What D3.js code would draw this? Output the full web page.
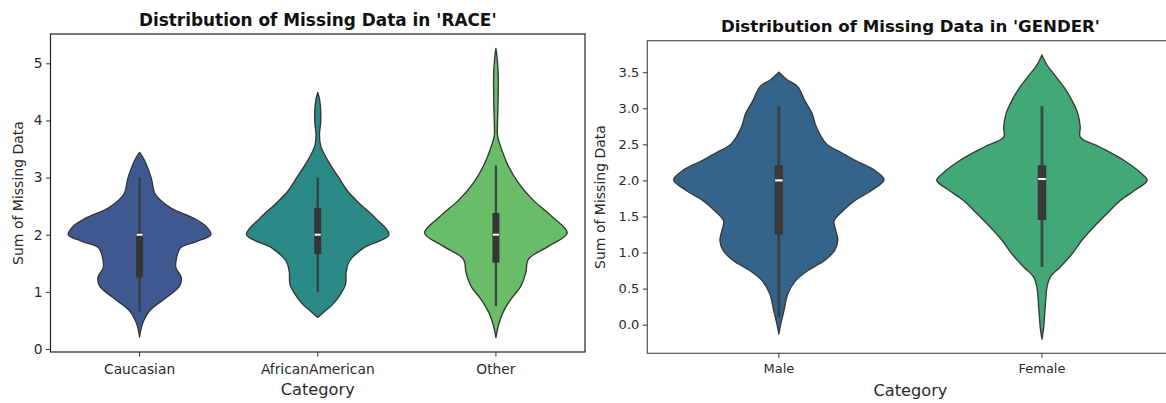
<!DOCTYPE html>
<html>
<head>
<meta charset="utf-8">
<script src="https://cdn.jsdelivr.net/npm/d3@7"></script>
<style>
  body { margin: 0; background: #ffffff; }
  svg { display: block; font-family: "DejaVu Sans", sans-serif; }
</style>
</head>
<body>
<svg id="chart" width="1166" height="403"></svg>
<script>
// ---- RACE panel data ----
const raceCategories = ["Caucasian", "AfricanAmerican", "Other"];
// density profiles: [value, relative density (1 = widest point)]
const raceDensityCaucasian = [
  [3.44, 0], [3.30, 0.07], [2.99, 0.164], [2.70, 0.224], [2.47, 0.435], [2.29, 0.757],
  [2.15, 0.93], [2.00, 1.0], [1.88, 0.80], [1.77, 0.575], [1.57, 0.515], [1.42, 0.51],
  [1.25, 0.585], [1.10, 0.56], [0.90, 0.375], [0.67, 0.14], [0.49, 0.056], [0.35, 0.02], [0.21, 0]
];
const raceDensityAfricanAmerican = [
  [4.49, 0], [4.35, 0.028], [4.15, 0.042], [3.95, 0.04], [3.75, 0.024], [3.55, 0.042],
  [3.28, 0.15], [2.99, 0.30], [2.76, 0.42], [2.53, 0.60], [2.29, 0.81], [2.00, 1.0],
  [1.77, 0.645], [1.54, 0.445], [1.36, 0.40], [1.13, 0.39], [0.96, 0.32], [0.78, 0.21],
  [0.64, 0.08], [0.55, 0]
];
const raceDensityOther = [
  [5.26, 0], [5.05, 0.02], [4.80, 0.032], [4.50, 0.032], [4.20, 0.028], [3.90, 0.021],
  [3.72, 0.024], [3.48, 0.084], [3.19, 0.18], [2.90, 0.32], [2.61, 0.52], [2.32, 0.785],
  [2.03, 1.0], [1.80, 0.74], [1.57, 0.455], [1.34, 0.42], [1.10, 0.35], [0.87, 0.21],
  [0.64, 0.10], [0.41, 0.035], [0.20, 0]
];
const raceQ1 = [1.25, 1.66, 1.51];
const raceMedian = [2.0, 2.0, 2.0];
const raceQ3 = [2.03, 2.47, 2.38];
const raceWhiskerLow = [0.65, 0.99, 0.75];
const raceWhiskerHigh = [3.0, 3.0, 3.21];
const raceTicks = [0, 1, 2, 3, 4, 5];
const raceColors = ["#3f5990", "#2b8a85", "#6abd68"];

// ---- GENDER panel data ----
const genderCategories = ["Male", "Female"];
const genderDensityMale = [
  [3.50, 0], [3.40, 0.076], [3.30, 0.18], [3.11, 0.245], [2.93, 0.315], [2.74, 0.356],
  [2.51, 0.45], [2.38, 0.60], [2.28, 0.72], [2.15, 0.90], [2.01, 1.0], [1.86, 0.88],
  [1.72, 0.72], [1.58, 0.61], [1.44, 0.525], [1.31, 0.54], [1.17, 0.56], [1.03, 0.53],
  [0.89, 0.435], [0.75, 0.276], [0.61, 0.16], [0.43, 0.086], [0.19, 0.048], [0.02, 0.02], [-0.13, 0]
];
const genderDensityFemale = [
  [3.74, 0], [3.60, 0.048], [3.48, 0.11], [3.30, 0.206], [3.11, 0.285], [2.93, 0.34],
  [2.74, 0.364], [2.60, 0.364], [2.46, 0.554], [2.28, 0.777], [2.09, 0.95], [2.00, 1.0],
  [1.86, 0.88], [1.72, 0.745], [1.54, 0.618], [1.35, 0.49], [1.17, 0.38], [0.98, 0.285],
  [0.80, 0.174], [0.66, 0.079], [0.52, 0.048], [0.24, 0.031], [-0.04, 0.016], [-0.20, 0]
];
const genderQ1 = [1.25, 1.45];
const genderMedian = [2.0, 2.02];
const genderQ3 = [2.21, 2.21];
const genderWhiskerLow = [0.1, 0.8];
const genderWhiskerHigh = [3.03, 3.03];
const genderTicks = [0, 0.5, 1, 1.5, 2, 2.5, 3, 3.5];
const genderColors = ["#346489", "#42a877"];

const svg = d3.select("#chart");

function drawPanel(cfg) {
  const g = svg.append("g");
  const profiles = cfg.density;

  // y domain: full extent of the violins plus a 5% margin on each side
  const allVals = profiles.flat().map(d => d[0]);
  const lo = d3.min(allVals), hi = d3.max(allVals);
  const pad = (hi - lo) * 0.05;
  const y = d3.scaleLinear().domain([lo - pad, hi + pad]).range([cfg.bottom, cfg.top]);
  const x = d3.scaleBand().domain(cfg.categories).range([cfg.left, cfg.right]).padding(0);
  const half = d3.scaleLinear().domain([0, 1]).range([0, x.bandwidth() * 0.4]);

  // violins
  cfg.categories.forEach((c, i) => {
    const cx = x(c) + x.bandwidth() / 2;
    const area = d3.area()
      .curve(d3.curveCatmullRom.alpha(0.5))
      .y(d => y(d[0]))
      .x0(d => cx - half(d[1]))
      .x1(d => cx + half(d[1]));
    g.append("path")
      .datum(profiles[i])
      .attr("d", area)
      .attr("fill", cfg.colors[i])
      .attr("stroke", cfg.lineColor)
      .attr("stroke-width", 1.35)
      .attr("stroke-linejoin", "round");

    // whisker
    g.append("line")
      .attr("x1", cx).attr("x2", cx)
      .attr("y1", y(cfg.whiskerHigh[i])).attr("y2", y(cfg.whiskerLow[i]))
      .attr("stroke", cfg.lineColor)
      .attr("stroke-opacity", 0.85)
      .attr("stroke-width", cfg.whiskerWidth);
    // box
    g.append("rect")
      .attr("x", cx - cfg.boxWidth / 2)
      .attr("width", cfg.boxWidth)
      .attr("y", y(cfg.q3[i]))
      .attr("height", y(cfg.q1[i]) - y(cfg.q3[i]))
      .attr("fill", cfg.lineColor);
    // median
    g.append("rect")
      .attr("x", cx - cfg.boxWidth / 2 + 0.5)
      .attr("width", cfg.boxWidth - 1)
      .attr("y", y(cfg.median[i]) - 1)
      .attr("height", 2)
      .attr("fill", "#ffffff");
  });

  // frame
  g.append("rect")
    .attr("x", cfg.left).attr("y", cfg.top)
    .attr("width", cfg.right - cfg.left).attr("height", cfg.bottom - cfg.top)
    .attr("fill", "none")
    .attr("stroke", cfg.frameColor)
    .attr("stroke-width", 1.2);

  // y axis
  const yAxis = g.append("g")
    .attr("transform", `translate(${cfg.left},0)`)
    .call(d3.axisLeft(y).tickValues(cfg.ticks).tickFormat(cfg.tickFormat)
      .tickSize(4.5).tickPadding(3.5));
  yAxis.select(".domain").remove();
  yAxis.selectAll("line").attr("stroke", "#333");
  yAxis.selectAll("text")
    .attr("fill", "#2a2a2a")
    .style("font-family", '"DejaVu Sans", sans-serif')
    .style("font-size", cfg.tickFont + "px");

  // x axis
  const xAxis = g.append("g")
    .attr("transform", `translate(0,${cfg.bottom})`)
    .call(d3.axisBottom(x).tickSize(4.5).tickPadding(6));
  xAxis.select(".domain").remove();
  xAxis.selectAll("line").attr("stroke", "#333");
  xAxis.selectAll("text")
    .attr("fill", "#2a2a2a")
    .attr("dy", null)
    .attr("y", cfg.xTickBaseline - cfg.bottom)
    .style("font-family", '"DejaVu Sans", sans-serif')
    .style("font-size", cfg.tickFont + "px");

  // titles and axis labels
  const midX = (cfg.left + cfg.right) / 2;
  g.append("text")
    .attr("x", midX).attr("y", cfg.titleBaseline)
    .attr("text-anchor", "middle")
    .attr("font-weight", "bold")
    .attr("font-size", cfg.titleFont)
    .attr("fill", "#111")
    .text(cfg.title);
  g.append("text")
    .attr("x", midX).attr("y", cfg.xLabelBaseline)
    .attr("text-anchor", "middle")
    .attr("font-size", 16.2)
    .attr("fill", "#2a2a2a")
    .text("Category");
  g.append("text")
    .attr("transform", `translate(${cfg.yLabelBaseline},${(cfg.top + cfg.bottom) / 2}) rotate(-90)`)
    .attr("text-anchor", "middle")
    .attr("font-size", 14)
    .attr("fill", "#2a2a2a")
    .text("Sum of Missing Data");
}

drawPanel({
  categories: raceCategories,
  density: [raceDensityCaucasian, raceDensityAfricanAmerican, raceDensityOther],
  q1: raceQ1, median: raceMedian, q3: raceQ3,
  whiskerLow: raceWhiskerLow, whiskerHigh: raceWhiskerHigh,
  colors: raceColors,
  ticks: raceTicks, tickFormat: d3.format("d"),
  left: 50.5, right: 585, top: 34, bottom: 352,
  lineColor: "#353535", frameColor: "#222",
  boxWidth: 7, whiskerWidth: 2.3,
  tickFont: 13.8, titleFont: 16.9,
  title: "Distribution of Missing Data in 'RACE'",
  titleBaseline: 26, xTickBaseline: 374, xLabelBaseline: 395, yLabelBaseline: 23.3
});

drawPanel({
  categories: genderCategories,
  density: [genderDensityMale, genderDensityFemale],
  q1: genderQ1, median: genderMedian, q3: genderQ3,
  whiskerLow: genderWhiskerLow, whiskerHigh: genderWhiskerHigh,
  colors: genderColors,
  ticks: genderTicks, tickFormat: d3.format(".1f"),
  left: 647.3, right: 1173.5, top: 40.7, bottom: 353.3,
  lineColor: "#393939", frameColor: "#555",
  boxWidth: 8.5, whiskerWidth: 2.8,
  tickFont: 13, titleFont: 16.6,
  title: "Distribution of Missing Data in 'GENDER'",
  titleBaseline: 31.7, xTickBaseline: 373.5, xLabelBaseline: 396, yLabelBaseline: 605
});
</script>
</body>
</html>
